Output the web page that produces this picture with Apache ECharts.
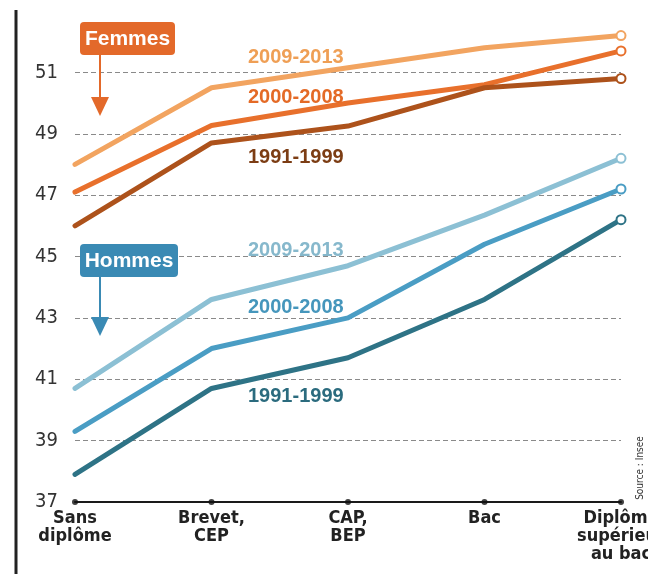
<!DOCTYPE html>
<html><head><meta charset="utf-8">
<script src="https://cdn.jsdelivr.net/npm/echarts@6/dist/echarts.min.js"></script>
<style>html,body{margin:0;padding:0;background:#fff}#c{width:648px;height:574px}</style>
</head><body><div id="c"></div>
<script>
const categories = ['Sans\ndiplôme', 'Brevet,\nCEP', 'CAP,\nBEP', 'Bac', 'Diplôme\nsupérieur\nau bac'];
const femmes2009 = [48.0, 50.5, 51.15, 51.8, 52.2];
const femmes2000 = [47.1, 49.27, 50.0, 50.6, 51.7];
const femmes1991 = [46.0, 48.7, 49.25, 50.5, 50.8];
const hommes2009 = [40.7, 43.6, 44.7, 46.35, 48.2];
const hommes2000 = [39.3, 42.0, 43.0, 45.4, 47.2];
const hommes1991 = [37.9, 40.7, 41.7, 43.6, 46.2];
const yTicks = [37, 39, 41, 43, 45, 47, 49, 51];

const NARROW = '"DejaVu Sans Condensed", "Liberation Sans Narrow", sans-serif';
const WIDE = '"Liberation Sans", Arial, sans-serif';

function mkSeries(name, vals, color) {
  return {
    name, type: 'line', data: vals.map((v, i) => i === vals.length - 1
      ? { value: v, symbol: 'circle', symbolSize: 9, itemStyle: { color: '#fff', borderColor: color, borderWidth: 2 } }
      : { value: v, symbol: 'none' }),
    lineStyle: { color, width: 5, cap: 'round', join: 'round' },
    itemStyle: { color }, showSymbol: true, silent: true, z: 3
  };
}

const chart = echarts.init(document.getElementById('c'));
chart.setOption({
  animation: false,
  grid: { left: 75, right: 27, top: 11, bottom: 72, containLabel: false, outerBoundsMode: 'none' },
  xAxis: {
    type: 'category', data: categories, boundaryGap: false,
    axisLine: { lineStyle: { color: '#1a1a1a', width: 2 } },
    axisTick: { show: false },
    axisLabel: { color: '#222', fontFamily: NARROW, fontSize: 18, fontWeight: 'bold', lineHeight: 18, margin: 7, interval: 0, hideOverlap: false }
  },
  yAxis: {
    type: 'value', min: 37, max: 53, interval: 2,
    axisLine: { show: false }, axisTick: { show: false },
    axisLabel: { color: '#333', fontFamily: NARROW, fontSize: 20, margin: 17,
      formatter: v => yTicks.indexOf(v) >= 0 ? String(v) : '' },
    splitLine: { show: true, showMinLine: false, showMaxLine: false, lineStyle: { color: '#8a8a8a', type: [5, 3], width: 1 } }
  },
  series: [
    mkSeries('F 2009-2013', femmes2009, '#f2a460'),
    mkSeries('F 2000-2008', femmes2000, '#e8702c'),
    mkSeries('F 1991-1999', femmes1991, '#ad521b'),
    mkSeries('H 2009-2013', hommes2009, '#8cc0d4'),
    mkSeries('H 2000-2008', hommes2000, '#4a9dc4'),
    mkSeries('H 1991-1999', hommes1991, '#2e7386'),
    { type: 'scatter', data: categories.map(c => [c, 37]), symbolSize: 6, itemStyle: { color: '#111' }, clip: false, silent: true, z: 5 }
  ],
  graphic: [
    { type: 'line', shape: { x1: 16, y1: 10, x2: 16, y2: 574 }, style: { stroke: '#222', lineWidth: 3 } },
    { type: 'rect', shape: { x: 80, y: 22, width: 95, height: 33, r: 4 }, style: { fill: '#e3692a' }, z: 10 },
    { type: 'text', x: 127.5, y: 39, style: { text: 'Femmes', fill: '#fff', font: 'bold 21px ' + WIDE, align: 'center', verticalAlign: 'middle' }, z: 11 },
    { type: 'line', shape: { x1: 100, y1: 55, x2: 100, y2: 100 }, style: { stroke: '#e3692a', lineWidth: 2 }, z: 10 },
    { type: 'polygon', shape: { points: [[91, 97], [109, 97], [100, 116]] }, style: { fill: '#e3692a' }, z: 10 },
    { type: 'rect', shape: { x: 80, y: 244, width: 98, height: 33, r: 4 }, style: { fill: '#3a8ab4' }, z: 10 },
    { type: 'text', x: 129, y: 261, style: { text: 'Hommes', fill: '#fff', font: 'bold 21px ' + WIDE, align: 'center', verticalAlign: 'middle' }, z: 11 },
    { type: 'line', shape: { x1: 100, y1: 277, x2: 100, y2: 320 }, style: { stroke: '#3a8ab4', lineWidth: 2 }, z: 10 },
    { type: 'polygon', shape: { points: [[91, 317], [109, 317], [100, 336]] }, style: { fill: '#3a8ab4' }, z: 10 },
    { type: 'text', x: 248, y: 57, style: { text: '2009-2013', fill: '#ef9f55', font: 'bold 20px ' + WIDE, verticalAlign: 'middle' }, z: 11 },
    { type: 'text', x: 248, y: 97, style: { text: '2000-2008', fill: '#e46a26', font: 'bold 20px ' + WIDE, verticalAlign: 'middle' }, z: 11 },
    { type: 'text', x: 248, y: 157, style: { text: '1991-1999', fill: '#7c3d14', font: 'bold 20px ' + WIDE, verticalAlign: 'middle' }, z: 11 },
    { type: 'text', x: 248, y: 250, style: { text: '2009-2013', fill: '#86b8cc', font: 'bold 20px ' + WIDE, verticalAlign: 'middle' }, z: 11 },
    { type: 'text', x: 248, y: 307, style: { text: '2000-2008', fill: '#4596bc', font: 'bold 20px ' + WIDE, verticalAlign: 'middle' }, z: 11 },
    { type: 'text', x: 248, y: 396, style: { text: '1991-1999', fill: '#2b6b7e', font: 'bold 20px ' + WIDE, verticalAlign: 'middle' }, z: 11 },
    { type: 'text', x: 640, y: 468, rotation: Math.PI / 2, style: { text: 'Source : Insee', fill: '#333', font: '10px ' + NARROW, align: 'center', verticalAlign: 'middle' }, z: 11 }
  ]
});
</script></body></html>
